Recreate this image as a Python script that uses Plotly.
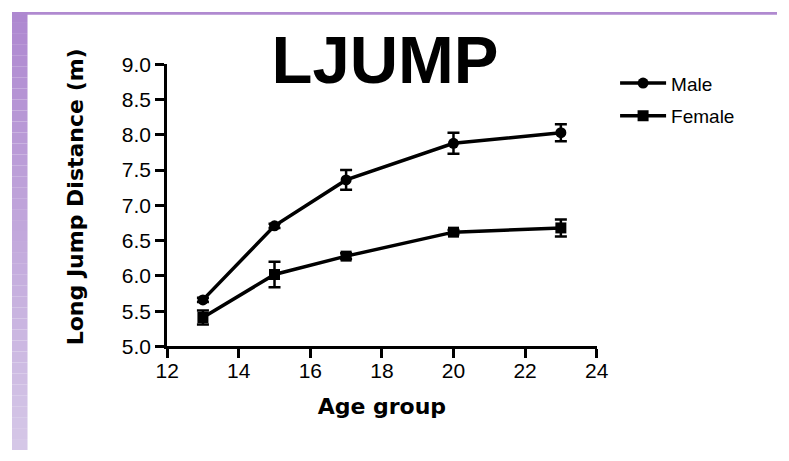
import plotly.graph_objects as go

# Long jump distance by age group (mean ± error)
age_groups = [13, 15, 17, 20, 23]
male_mean = [5.66, 6.71, 7.36, 7.88, 8.03]
male_err = [0.03, 0.03, 0.14, 0.15, 0.12]
female_mean = [5.41, 6.02, 6.28, 6.62, 6.68]
female_err = [0.10, 0.18, 0.04, 0.03, 0.12]

x_ticks = [12, 14, 16, 18, 20, 22, 24]
y_ticks = [5.0, 5.5, 6.0, 6.5, 7.0, 7.5, 8.0, 8.5, 9.0]

W, H = 789, 461
FONT = "Liberation Sans, Arial, sans-serif"
TITLE_FONT = "Comic Sans MS, DejaVu Sans, sans-serif"


def px_x(p):
    return p / W


def px_y(p):
    return 1 - p / H


fig = go.Figure()

fig.add_trace(go.Scatter(
    x=age_groups, y=male_mean, name="Male", mode="lines+markers",
    legendgroup="male",
    line=dict(color="black", width=3.5),
    marker=dict(symbol="circle", size=11, color="black"),
    error_y=dict(type="data", array=male_err, visible=True,
                 color="black", thickness=2.5, width=6),
    cliponaxis=False,
))
fig.add_trace(go.Scatter(
    x=age_groups, y=female_mean, name="Female", mode="lines+markers",
    legendgroup="female",
    line=dict(color="black", width=3.5),
    marker=dict(symbol="square", size=11, color="black"),
    error_y=dict(type="data", array=female_err, visible=True,
                 color="black", thickness=2.5, width=6),
    cliponaxis=False,
))

# Lavender frame: thin band on top, gradient band down the left edge
shapes = [dict(type="rect", xref="paper", yref="paper",
               x0=0, x1=1, y0=px_y(3), y1=1,
               fillcolor="rgb(176,138,208)", line=dict(width=0), layer="below")]
n_strips = 40
top_c = (174, 136, 208)
bot_c = (213, 199, 231)
for i in range(n_strips):
    t = i / (n_strips - 1)
    c = tuple(round(a + (b - a) * t) for a, b in zip(top_c, bot_c))
    shapes.append(dict(
        type="rect", xref="paper", yref="paper",
        x0=0, x1=px_x(16),
        y0=px_y(H * (i + 1) / n_strips), y1=px_y(H * i / n_strips),
        fillcolor=f"rgb{c}", line=dict(width=0), layer="below"))

axis_common = dict(
    showline=True, linecolor="black", linewidth=3,
    ticks="outside", ticklen=9, tickwidth=3, tickcolor="black",
    showgrid=False, zeroline=False,
    tickfont=dict(family=FONT, size=21, color="black"),
)

fig.update_layout(
    width=W, height=H,
    margin=dict(l=0, r=0, t=0, b=0),
    paper_bgcolor="white", plot_bgcolor="white",
    shapes=shapes,
    title=dict(text="LJUMP", x=px_x(385), xanchor="center",
               y=px_y(60), yanchor="middle",
               font=dict(family=FONT, size=67, color="black", weight="bold")),
    xaxis=dict(domain=[px_x(160), px_x(603)], range=[12, 24],
               tickvals=x_ticks, ticktext=[str(v) for v in x_ticks],
               ticklabelstandoff=-6,
               title=dict(text="Age group", standoff=18,
                          font=dict(family=TITLE_FONT, size=22, color="black",
                                    weight="bold")),
               **axis_common),
    yaxis=dict(domain=[px_y(352), px_y(55)], range=[5, 9],
               tickvals=y_ticks, ticktext=[f"{v:.1f}" for v in y_ticks],
               **axis_common),
    annotations=[dict(
        text="Long Jump Distance (m)", textangle=-90,
        xref="paper", yref="paper", x=px_x(65), y=px_y(195),
        xanchor="center", yanchor="middle", showarrow=False,
        font=dict(family=TITLE_FONT, size=22, color="black", weight="bold"),
    )],
    legend=dict(x=px_x(622), y=px_y(55), xanchor="left", yanchor="top",
                font=dict(family=FONT, size=19, color="black"),
                itemwidth=46, tracegroupgap=5, bgcolor="rgba(0,0,0,0)"),
    showlegend=True,
)

fig.write_html("out.html")
